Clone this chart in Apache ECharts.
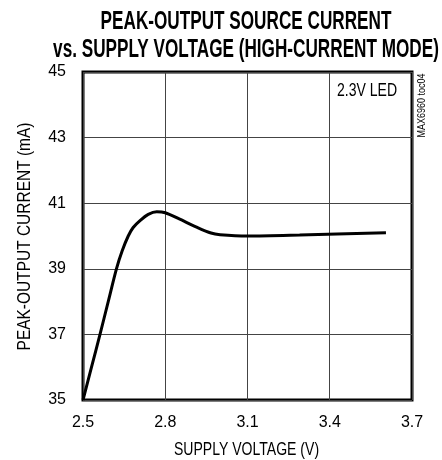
<!DOCTYPE html>
<html>
<head>
<meta charset="utf-8">
<script src="https://cdn.jsdelivr.net/npm/echarts@6/dist/echarts.min.js"></script>
<style>
html,body{margin:0;padding:0;background:#fff;}
#chart{width:442px;height:460px;}
</style>
</head>
<body>
<div id="chart"></div>
<script>
var voltage = [2.5, 2.531, 2.562, 2.592, 2.622, 2.643, 2.665, 2.683, 2.708, 2.738, 2.769, 2.8, 2.851, 2.912, 2.967, 3.0, 3.1, 3.29, 3.605];
var current = [35, 36, 37, 38, 39.0, 39.55, 40.0, 40.26, 40.47, 40.66, 40.74, 40.71, 40.52, 40.28, 40.09, 40.04, 40.0, 40.03, 40.10];
var xTicks = [2.5, 2.8, 3.1, 3.4, 3.7];
var yTicks = [35, 37, 39, 41, 43, 45];
var titleLine1 = 'PEAK-OUTPUT SOURCE CURRENT';
var titleLine2 = 'vs. SUPPLY VOLTAGE (HIGH-CURRENT MODE)';
var xName = 'SUPPLY VOLTAGE (V)';
var yName = 'PEAK-OUTPUT CURRENT (mA)';
var noteText = '2.3V LED';
var idText = 'MAX6960 toc04';

var FONT = "'Liberation Sans', Arial, sans-serif";
function label(text, x, y, size, weight, sx, rot) {
  return {
    type: 'text', x: x, y: y, scaleX: sx, scaleY: 1, rotation: rot || 0,
    style: {
      text: text, x: 0, y: 0, align: 'center', verticalAlign: 'middle',
      textAlign: 'center', textVerticalAlign: 'middle',
      fontFamily: FONT, fontSize: size, fontWeight: weight, fill: '#000'
    }
  };
}
var chart = echarts.init(document.getElementById('chart'), null, {renderer: 'canvas'});
var pts = voltage.map(function (v, i) { return [v, current[i]]; });
chart.setOption({
  animation: false,
  backgroundColor: '#fff',
  grid: {left: 83, right: 30, top: 72, bottom: 60, show: true, borderColor: '#000', borderWidth: 3, backgroundColor: 'transparent'},
  xAxis: {
    type: 'value', min: xTicks[0], max: xTicks[xTicks.length - 1], interval: 0.3,
    axisLine: {show: false}, axisTick: {show: false},
    axisLabel: {fontFamily: FONT, fontSize: 16, color: '#000', margin: 15,
      formatter: function (v) { return (Math.round(v * 10) / 10).toFixed(1); }},
    splitLine: {show: true, lineStyle: {color: '#444', width: 1}}
  },
  yAxis: {
    type: 'value', min: yTicks[0], max: yTicks[yTicks.length - 1], interval: 2,
    axisLine: {show: false}, axisTick: {show: false},
    axisLabel: {fontFamily: FONT, fontSize: 16, color: '#000', margin: 17},
    splitLine: {show: true, lineStyle: {color: '#444', width: 1}}
  },
  graphic: [
    label(titleLine1, 246, 22, 26, 'bold', 0.66),
    label(titleLine2, 246, 50, 26, 'bold', 0.66),
    label(xName, 246.5, 450, 18, 'normal', 0.78),
    label(yName, 25.5, 236.5, 18, 'normal', 0.86, Math.PI / 2),
    label(noteText, 367, 91.5, 18, 'normal', 0.78),
    label(idText, 422, 105.5, 10, 'normal', 0.9, Math.PI / 2)
  ],
  series: [{
    type: 'line', data: pts, smooth: 0.3, symbol: 'none',
    lineStyle: {color: '#000', width: 3}
  }]
});
</script>
</body>
</html>
